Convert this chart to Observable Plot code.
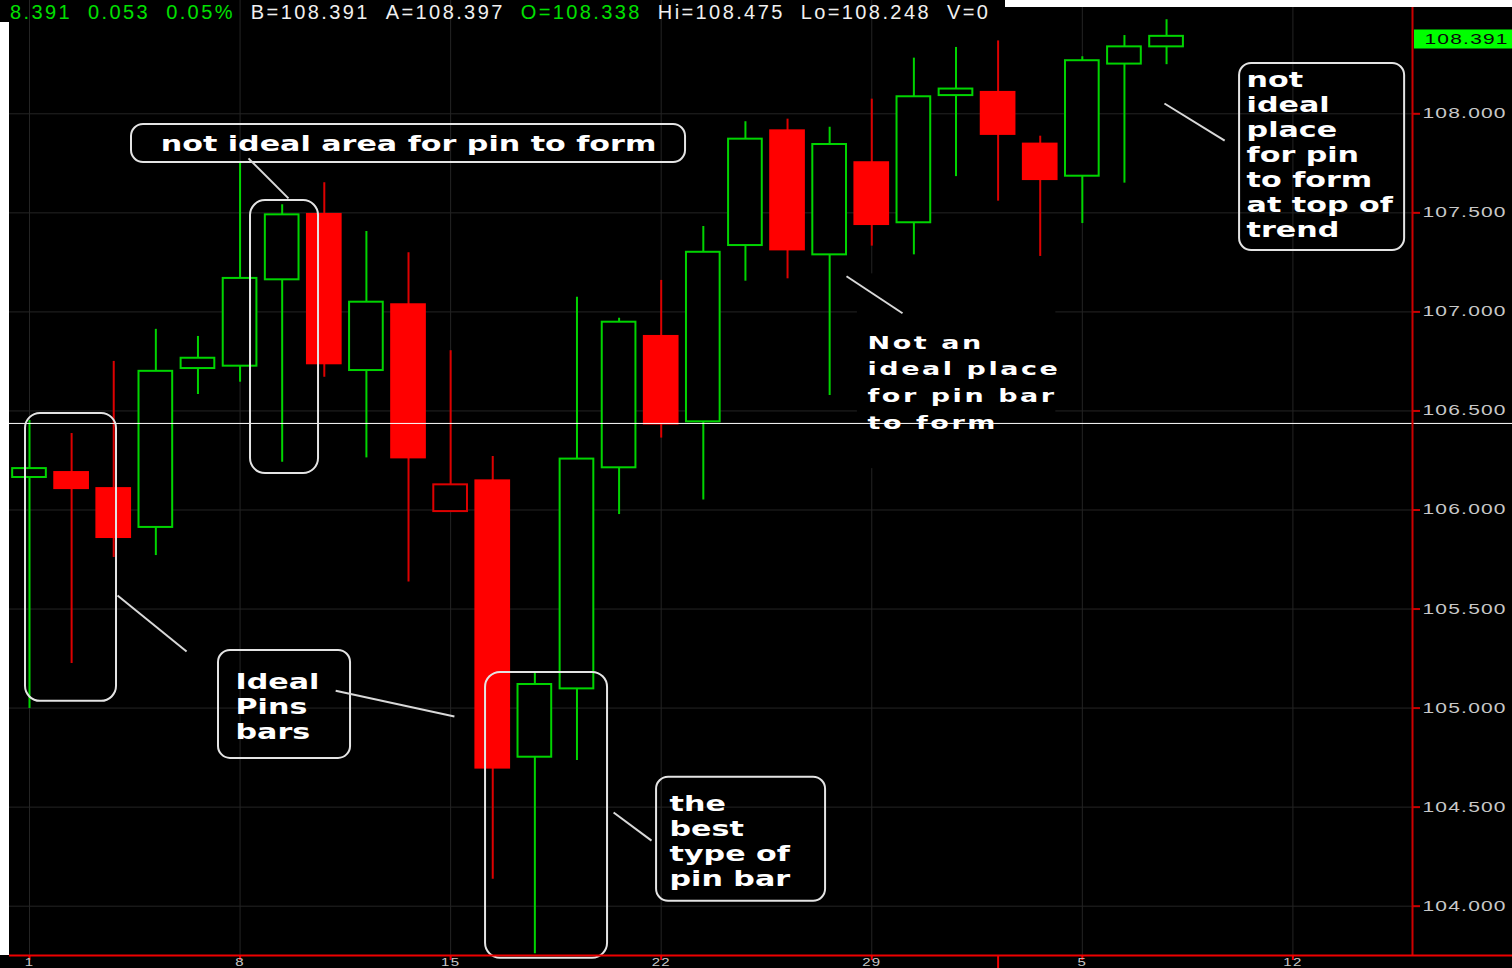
<!DOCTYPE html>
<html><head><meta charset="utf-8">
<script src="https://cdn.jsdelivr.net/npm/d3@7"></script>
<script src="https://cdn.jsdelivr.net/npm/@observablehq/plot@0.6"></script>
<style>
html,body{margin:0;padding:0;background:#fff;overflow:hidden;}
#wrap{position:relative;width:1512px;height:968px;overflow:hidden;background:#000;}
#chart svg{display:block;overflow:hidden;}
#header{position:absolute;left:10px;top:2px;font:20px "Liberation Sans",Arial,sans-serif;line-height:20px;letter-spacing:2.4px;white-space:pre;}
#header span{margin-right:16px}
.maskL{position:absolute;left:0;top:22px;width:9px;height:933px;background:#fff;}
.maskT{position:absolute;left:1005px;top:0;width:507px;height:7px;background:#fff;}
</style></head><body>
<div id="wrap"><div id="chart"></div><div id="header"></div><div class="maskL"></div><div class="maskT"></div></div>
<script>
// ---------- data ----------
const open  = [106.164,106.189,106.108,105.912,106.714,106.726,107.162,107.492,106.704,107.036,105.992,106.147,104.752,105.097,106.213,106.876,106.445,107.335,107.914,107.288,107.753,107.450,108.092,108.108,107.847,107.685,108.251,108.338];
const high  = [106.452,106.386,106.750,106.912,106.876,107.759,107.541,107.652,107.406,107.298,106.804,106.270,105.181,107.074,106.968,107.159,107.431,107.960,107.973,107.932,108.074,108.281,108.335,108.368,107.887,108.288,108.395,108.475];
const low   = [104.998,105.225,105.760,105.770,106.583,106.645,106.241,106.670,106.263,105.636,105.992,104.136,103.760,104.735,105.977,106.363,106.050,107.155,107.167,106.578,107.332,107.288,107.683,107.559,107.280,107.446,107.650,108.248];
const close = [106.209,106.108,105.861,106.700,106.766,107.169,107.490,106.738,107.049,106.263,106.127,104.697,105.119,106.257,106.948,106.434,107.301,107.872,107.313,107.845,107.441,108.086,108.125,107.896,107.668,108.268,108.338,108.391];

const yTicks = [104.0,104.5,105.0,105.5,106.0,106.5,107.0,107.5,108.0];
const xTickIdx = [0,5,10,15,20,25,30];
const xTickLabels = ["1","8","15","22","29","5","12"];
const monthTickIdx = [23];
const crosshairPrice = [106.437];

const headerTexts = ["8.391","0.053","0.05%","B=108.391","A=108.397","O=108.338","Hi=108.475","Lo=108.248","V=0"];
const headerKinds = ["up","up","up","plain","plain","up","plain","plain","plain"];

// annotations (data units: candle index, price)
const highlightBoxes = [
  {x1:-0.095, x2:2.066, y1:106.487, y2:105.034},
  {x1:5.248, x2:6.863, y1:107.562, y2:106.184},
  {x1:10.829, x2:13.726, y1:105.180, y2:103.737}
];
const noteBoxes = [
  {x1:2.422, x2:15.578, y1:107.946, y2:107.754},
  {x1:4.488, x2:7.623, y1:105.291, y2:104.746},
  {x1:14.890, x2:18.903, y1:104.651, y2:104.025},
  {x1:28.734, x2:32.653, y1:108.254, y2:107.310}
];
const textBackdrop = [{x1:19.66, x2:24.37, y1:107.192, y2:106.209}];
const leaders = [
  {x1:5.20, y1:107.775, x2:6.15, y2:107.573},
  {x1:2.09, y1:105.568, x2:3.73, y2:105.286},
  {x1:7.27, y1:105.088, x2:10.09, y2:104.957},
  {x1:13.87, y1:104.473, x2:14.77, y2:104.331},
  {x1:19.40, y1:107.180, x2:20.73, y2:106.993},
  {x1:26.95, y1:108.052, x2:28.38, y2:107.865}
];
const titleNote = [{x:9.0, y:107.850, text:"not ideal area for pin to form"}];
const blockNotes = [
  {x:4.892, y:105.188, text:"Ideal\nPins\nbars"},
  {x:15.198, y:104.572, text:"the\nbest\ntype of\npin bar"},
  {x:28.90, y:108.227, text:"not\nideal\nplace\nfor pin\nto form\nat top of\ntrend"}
];
const smallNote = [{x:19.90, y:106.910, text:"Not an\nideal place\nfor pin bar\nto form"}];

// ---------- build ----------
const xDomain = [-0.475, 32.84];
const yDomain = [103.751, 108.572];
const GREEN = "#00d400", RED = "#ff0000", REDW = "#dd0000";
const candles = open.map((o, i) => ({
  i, open: o, high: high[i], low: low[i], close: close[i],
  up: i === 0 ? true : close[i] >= close[i - 1],
  filled: close[i] < o
}));
const last = candles[candles.length - 1];
const fmt = d3.format(".3f");

const hdr = document.getElementById("header");
headerTexts.forEach((t, k) => {
  const s = document.createElement("span");
  s.textContent = t;
  s.style.color = headerKinds[k] === "up" ? "#00e000" : "#f0f0f0";
  hdr.appendChild(s);
});

const chart = Plot.plot({
  width: 1512, height: 968,
  marginLeft: 9, marginRight: 100, marginTop: 0, marginBottom: 13,
  style: {background: "black", fontFamily: "'Liberation Sans', Arial, sans-serif", overflow: "hidden"},
  x: {domain: xDomain, axis: null},
  y: {domain: yDomain, axis: null},
  color: {type: "identity"},
  marks: [
    Plot.ruleY(yTicks, {stroke: "#242424", strokeWidth: 1}),
    Plot.ruleX(xTickIdx, {stroke: "#242424", strokeWidth: 1}),
    Plot.rect(textBackdrop, {x1: "x1", x2: "x2", y1: "y1", y2: "y2", fill: "black"}),
    Plot.ruleX(candles, {x: "i", y1: "low", y2: "high", stroke: d => d.up ? GREEN : REDW, strokeWidth: 2}),
    Plot.rect(candles, {
      x1: d => d.i - 0.4, x2: d => d.i + 0.4,
      y1: d => Math.min(d.open, d.close), y2: d => Math.max(d.open, d.close),
      fill: d => d.filled ? (d.up ? GREEN : RED) : "black",
      stroke: d => d.up ? GREEN : (d.filled ? RED : REDW), strokeWidth: 2
    }),
    Plot.ruleY(crosshairPrice, {stroke: "white", strokeWidth: 1, insetRight: -100}),
    Plot.rect(highlightBoxes, {x1: "x1", x2: "x2", y1: "y1", y2: "y2", rx: 15, fill: "none", stroke: "#e4e4e4", strokeWidth: 2}),
    Plot.rect(noteBoxes, {x1: "x1", x2: "x2", y1: "y1", y2: "y2", rx: 12, fill: "none", stroke: "#e4e4e4", strokeWidth: 2}),
    Plot.link(leaders, {x1: "x1", y1: "y1", x2: "x2", y2: "y2", stroke: "#d8d8d8", strokeWidth: 2}),
    // text marks (order matters for the stretch step below)
    Plot.text(titleNote, {x: "x", y: "y", text: "text", fill: "white", fontSize: 22, fontWeight: "bold", fontFamily: "DejaVu Sans", textAnchor: "middle"}),
    Plot.text(blockNotes, {x: "x", y: "y", text: "text", fill: "white", fontSize: 22, fontWeight: "bold", fontFamily: "DejaVu Sans", textAnchor: "start", lineAnchor: "top", lineHeight: 1.136}),
    Plot.text(smallNote, {x: "x", y: "y", text: "text", fill: "white", fontSize: 18, fontWeight: "bold", fontFamily: "DejaVu Sans", textAnchor: "start", lineAnchor: "top", lineHeight: 1.48}),
    // right axis
    Plot.ruleX([xDomain[1]], {stroke: "#cc0000", strokeWidth: 2}),
    Plot.ruleY(yTicks, {stroke: "#cc0000", strokeWidth: 2, insetLeft: 1403, insetRight: -8}),
    Plot.text(yTicks, {y: d => d, text: d => fmt(d), frameAnchor: "right", dx: 10, textAnchor: "start", fill: "#c8c8c8", fontSize: 14}),
    Plot.ruleY([last.close], {stroke: "#00ff00", strokeWidth: 19, insetLeft: 1405, insetRight: -100, dy: 2.7}),
    Plot.text([last.close], {y: d => d, text: d => fmt(d), frameAnchor: "right", dx: 12, dy: 2.7, textAnchor: "start", fill: "#0a0a0a", fontSize: 14}),
    // bottom axis
    Plot.ruleY([yDomain[0]], {stroke: "#ee0000", strokeWidth: 2, insetRight: -100}),
    Plot.ruleX(xTickIdx, {stroke: "#ee0000", strokeWidth: 2, insetTop: 955, insetBottom: -5}),
    Plot.ruleX(monthTickIdx, {stroke: "#ee0000", strokeWidth: 2, insetTop: 955, insetBottom: -13}),
    Plot.text(xTickIdx, {x: d => d, text: (d, k) => xTickLabels[k], frameAnchor: "bottom", dy: 3, lineAnchor: "top", textAnchor: "middle", fill: "#c8c8c8", fontSize: 10})
  ]
});
document.getElementById("chart").appendChild(chart);

// horizontally stretch text groups (bitmap-like wide font of the original)
const textGroups = chart.querySelectorAll('g[aria-label="text"]');
function stretch(g, sx, ls) {
  if (!g) return;
  g.style.letterSpacing = ls + "px";
  g.querySelectorAll("text").forEach(t => {
    const x0 = parseFloat(t.getAttribute("x")) || 0;
    const y0 = parseFloat(t.getAttribute("y")) || 0;
    const tr = t.getAttribute("transform") || "";
    t.setAttribute("transform", `${tr} translate(${x0},${y0}) scale(${sx},1) translate(${-x0},${-y0})`.trim());
  });
}
stretch(textGroups[0], 1.37, 0);
stretch(textGroups[1], 1.37, 0);
stretch(textGroups[2], 1.5, 1.7);
stretch(textGroups[3], 1.5, 0.8);
stretch(textGroups[4], 1.5, 0.8);
stretch(textGroups[5], 1.5, 0.8);
</script>
</body></html>
